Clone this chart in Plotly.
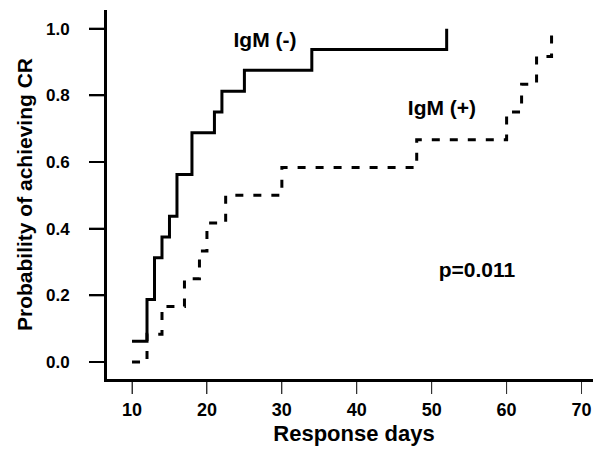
import plotly.graph_objects as go

# IgM (-) cumulative probability of achieving CR (step function)
neg_days = [10, 12, 13, 14, 15, 16, 18, 21, 22, 25, 34, 52]
neg_prob = [0.0625, 0.1875, 0.3125, 0.375, 0.4375, 0.5625, 0.6875, 0.75, 0.8125, 0.875, 0.9375, 1.0]

# IgM (+)
pos_days = [10, 12, 14, 17, 19, 20, 22.5, 30, 48, 60, 62, 64, 66]
pos_prob = [0.0, 0.0833, 0.1667, 0.25, 0.3333, 0.4167, 0.5, 0.5833, 0.6667, 0.75, 0.8333, 0.9167, 1.0]

x_ticks = [10, 20, 30, 40, 50, 60, 70]
x_tick_text = ["10", "20", "30", "40", "50", "60", "70"]
y_ticks = [0.0, 0.2, 0.4, 0.6, 0.8, 1.0]
y_tick_text = ["0.0", "0.2", "0.4", "0.6", "0.8", "1.0"]

# in-plot text labels
label_text = ["IgM (-)", "IgM (+)", "p=0.011"]
label_x = [27.75, 51.37, 56.04]
label_y = [0.96, 0.756, 0.27]

FONT = "Liberation Sans, Arial, sans-serif"

# page coordinates of the plot area (the page has an 8px body margin)
LEFT, TOP, BOTTOM, RIGHT = 107, 10, 379, 601
W, H = 593, 443
PW, PH = float(RIGHT - LEFT), float(BOTTOM - TOP)

fig = go.Figure()
fig.add_trace(go.Scatter(x=neg_days, y=neg_prob, mode="lines", line_shape="hv",
                         line=dict(color="black", width=3), name="IgM (-)"))
fig.add_trace(go.Scatter(x=pos_days, y=pos_prob, mode="lines", line_shape="hv",
                         line=dict(color="black", width=3, dash="8px,10px"), name="IgM (+)"))
fig.add_trace(go.Scatter(x=label_x, y=label_y, mode="text",
                         text=["<b>%s</b>" % t for t in label_text],
                         textposition="middle center", cliponaxis=False,
                         textfont=dict(family=FONT, size=21, color="black"),
                         hoverinfo="skip"))

fig.update_layout(
    width=W, height=H,
    margin=dict(l=LEFT - 8, r=0, t=TOP - 8, b=H - (BOTTOM - 8)),
    plot_bgcolor="white", paper_bgcolor="white",
    showlegend=False,
    font=dict(family=FONT, color="black"),
)
fig.update_xaxes(range=[6.66, 72.6], tickvals=x_ticks,
                 ticktext=["<b>%s</b>" % t for t in x_tick_text],
                 showgrid=False, zeroline=False,
                 showline=True, linewidth=3, linecolor="black",
                 ticks="outside", ticklen=12, tickwidth=1, tickcolor="#333",
                 tickfont=dict(size=18, family=FONT, color="black"),
                 title=dict(text="<b>Response days</b>", standoff=8,
                            font=dict(size=22, family=FONT, color="black")))
fig.update_yaxes(range=[-0.051, 1.056], tickvals=y_ticks,
                 ticktext=["<b>%s</b>" % t for t in y_tick_text],
                 showgrid=False, zeroline=False,
                 showline=True, linewidth=3, linecolor="black",
                 ticks="outside", ticklen=15, tickwidth=2, tickcolor="black",
                 ticklabelstandoff=16,
                 tickfont=dict(size=17, family=FONT, color="black"),
                 title=dict(text="<b>Probability of achieving CR</b>", standoff=8,
                            font=dict(size=21, family=FONT, color="black")))

# axis lines and tick marks drawn explicitly (derived from the tick arrays)
shapes = [
    dict(type="line", xref="paper", yref="paper", x0=-3 / PW, x1=1, y0=-1.5 / PH, y1=-1.5 / PH,
         line=dict(color="black", width=3)),
    dict(type="line", xref="paper", yref="paper", x0=-1.5 / PW, x1=-1.5 / PW, y0=-3 / PH, y1=1,
         line=dict(color="black", width=3)),
]
for t in x_ticks:
    shapes.append(dict(type="line", xref="x", yref="paper", x0=t, x1=t,
                       y0=-3 / PH, y1=-15 / PH, line=dict(color="#333", width=1)))
for t in y_ticks:
    shapes.append(dict(type="line", xref="paper", yref="y", y0=t, y1=t,
                       x0=-3 / PW, x1=-18 / PW, line=dict(color="black", width=2)))
fig.update_layout(shapes=shapes)

fig.write_html("out.html")
